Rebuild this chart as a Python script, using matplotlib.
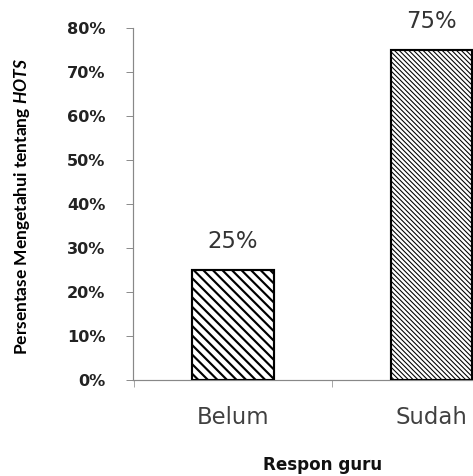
import matplotlib
matplotlib.use("Agg")
import matplotlib.pyplot as plt
import numpy as np

# data
kategori = ["Belum", "Sudah"]
persen = [0.25, 0.75]
label_nilai = ["25%", "75%"]
pola = ["\\\\\\", "\\\\\\\\\\\\"]
tebal_pola = [1.8, 0.9]
yticks = np.arange(0, 0.81, 0.1)

DPI = 86
plt.rcParams['mathtext.fontset'] = 'custom'
plt.rcParams['mathtext.it'] = 'Lato:italic:bold'
plt.rcParams['mathtext.rm'] = 'Lato:bold'

fig = plt.figure(figsize=(473 / DPI, 476 / DPI), dpi=DPI)
ax = fig.add_axes([133 / 473, 96 / 476, 340 / 473, 352 / 476])

x = np.arange(len(kategori))
for i in range(len(kategori)):
    with plt.rc_context({'hatch.linewidth': tebal_pola[i], 'hatch.color': 'black'}):
        b = ax.bar(x[i], persen[i], width=0.41, color="white", edgecolor="black",
                   linewidth=1.8, hatch=pola[i], zorder=3)
    for p in b:
        if hasattr(p, "set_hatch_linewidth"):
            p.set_hatch_linewidth(tebal_pola[i])
    ax.annotate(label_nilai[i], (x[i], persen[i]), xytext=(0, 18), textcoords="offset points",
                ha="center", va="baseline", fontsize=19, color="#333333",
                annotation_clip=False)

ax.spines['top'].set_visible(False)
ax.spines['right'].set_visible(False)
for s in ['left', 'bottom']:
    ax.spines[s].set_color("#888888")
    ax.spines[s].set_linewidth(1.0)

ax.set_yticks(yticks)
ax.set_yticklabels([f"{int(round(v * 100))}%" for v in yticks], fontweight="bold",
                   fontsize=13.5, color="#222222")
ax.tick_params(axis="y", direction="out", length=6, color="#888888", pad=17)

ax.set_xticks(x)
ax.set_xticklabels(kategori, fontsize=19, color="#404040")
ax.set_xticks([-0.5, 0.5, 1.5], minor=True)
ax.tick_params(axis="x", which="major", length=0, pad=22)
ax.tick_params(axis="x", which="minor", direction="out", length=6, color="#888888")

ax.set_xlim(-0.504, 1.209)
ax.set_ylim(0, 0.8)

fig.text(22 / 473, 1 - 206 / 476, r"Persentase Mengetahui tentang $\mathit{HOTS}$",
         rotation=90, ha="center", va="center", fontsize=14.5, fontweight="bold",
         family=["Lato", "DejaVu Sans"], color="#000000")
fig.text(323 / 473, 1 - 465 / 476, "Respon guru", ha="center", va="center",
         fontsize=14, fontweight="bold", color="#111111")

fig.savefig("out.png", dpi=DPI)
